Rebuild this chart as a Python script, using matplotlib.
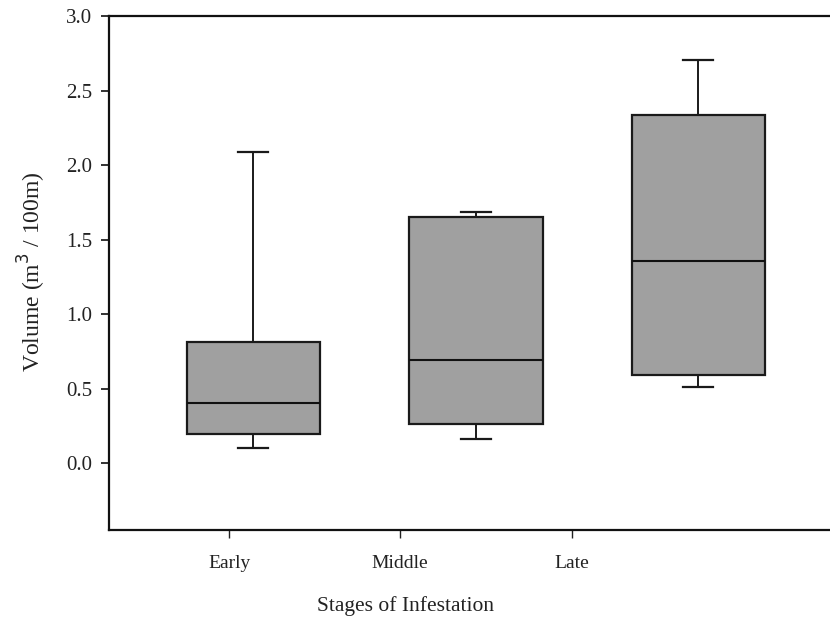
import matplotlib.pyplot as plt

plt.rcParams['font.family'] = ['Liberation Serif', 'DejaVu Serif']

# box summary for each stage (m3 / 100m)
stages = ['Early', 'Middle', 'Late']
whisker_low = [0.10, 0.165, 0.51]
q1 = [0.198, 0.263, 0.593]
median = [0.404, 0.693, 1.354]
q3 = [0.811, 1.649, 2.334]
whisker_high = [2.09, 1.685, 2.705]

box_pos = [1, 2, 3]
tick_pos = [0.892, 1.659, 2.431]

stats = []
for i, name in enumerate(stages):
    stats.append({'label': name, 'whislo': whisker_low[i], 'q1': q1[i],
                  'med': median[i], 'q3': q3[i], 'whishi': whisker_high[i],
                  'fliers': []})

fig = plt.figure(figsize=(8.3, 6.19), dpi=100)
ax = fig.add_axes([0.1313, 0.1438, 0.8687, 0.8303])

ax.bxp(stats, positions=box_pos, widths=0.6, patch_artist=True,
       showfliers=False, capwidths=0.135,
       boxprops=dict(facecolor='#a0a0a0', edgecolor='#1a1a1a', linewidth=1.6),
       medianprops=dict(color='#111111', linewidth=1.5),
       whiskerprops=dict(color='#1a1a1a', linewidth=1.4),
       capprops=dict(color='#1a1a1a', linewidth=1.6))

ax.set_xlim(0.351, 3.592)
ax.set_ylim(-0.447, 3.0)
ax.set_yticks([0.0, 0.5, 1.0, 1.5, 2.0, 2.5, 3.0])
ax.set_yticklabels(['0.0', '0.5', '1.0', '1.5', '2.0', '2.5', '3.0'])
ax.set_xticks(tick_pos)
ax.set_xticklabels(stages)

ax.spines['right'].set_visible(False)
for s in ['left', 'top', 'bottom']:
    ax.spines[s].set_linewidth(1.6)
    ax.spines[s].set_color('#111111')

ax.tick_params(axis='y', direction='out', length=6, width=1.3,
               labelsize=15, pad=6, colors='#222222')
ax.tick_params(axis='x', direction='out', length=6, width=1.0,
               labelsize=14, pad=12, colors='#222222')

ax.set_xlabel('Stages of Infestation', fontsize=15.5, color='#222222')
ax.xaxis.set_label_coords((406 - 109) / (830 - 109), -0.128)
ax.set_ylabel('Volume (m$^3$ / 100m)', fontsize=17, color='#222222')
ax.yaxis.set_label_coords(-0.085, 0.503)

fig.savefig('out.png', dpi=100)
